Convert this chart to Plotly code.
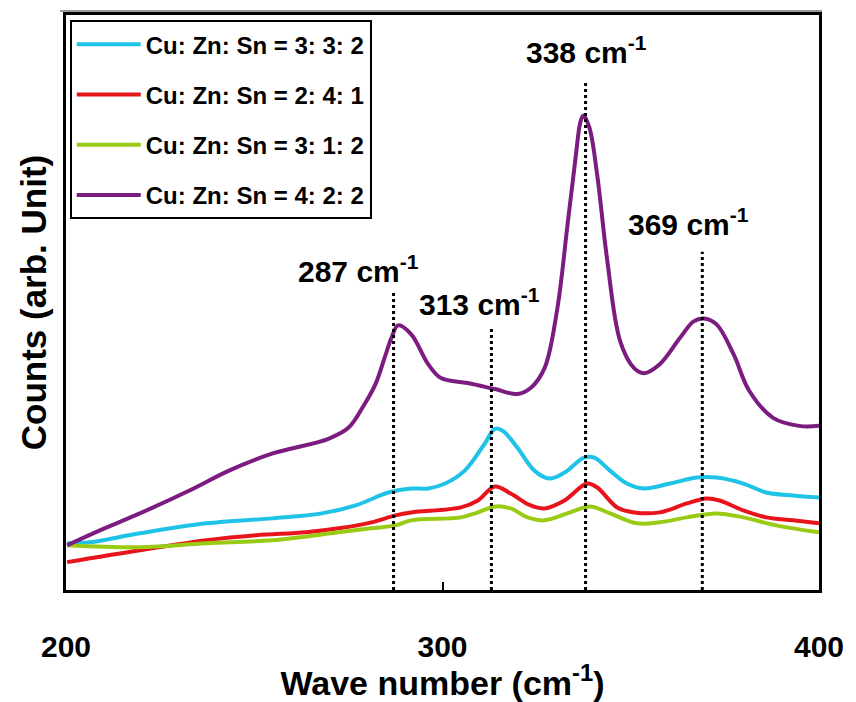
import plotly.graph_objects as go

# ---- data (wavenumber in cm^-1, counts in arbitrary units) ----
purple_x = [200.3, 209.0, 219.6, 232.8, 243.3, 254.7, 269.7, 275.0, 279.0, 282.2, 284.5, 286.4, 288.2,
            291.7, 296.2, 299.6, 306.7, 313.9, 319.9, 323.4, 327.1, 330.5, 333.2, 335.3, 336.6,
            337.4, 339.0, 341.1, 343.7, 347.2, 350.9, 353.5, 357.7, 363.0, 366.7, 369.4, 372.8,
            377.3, 381.5, 387.8, 394.7, 400.0]
purple_y = [45, 60, 77, 100, 120, 137, 152, 163, 185, 207, 232, 253, 266,
            257, 227, 213, 208, 202, 197, 203, 223, 283, 367, 433, 470,
            477, 465, 417, 333, 250, 223, 218, 227, 253, 270, 273, 267,
            237, 200, 173, 165, 165]

cyan_x = [200.3, 206.3, 219.6, 237.3, 254.7, 267.9, 276.9, 285.6, 291.7, 296.2, 300.7, 305.9,
          311.2, 313.9, 316.0, 319.9, 324.4, 328.4, 332.4, 337.6, 340.3, 344.5, 349.0, 353.5,
          360.4, 367.5, 372.8, 379.9, 386.0, 393.1, 400.0]
cyan_y = [47, 48, 57, 67, 72, 77, 85, 98, 102, 102, 107, 120,
          147, 162, 160, 143, 120, 112, 118, 133, 133, 120, 107, 102,
          107, 113, 113, 107, 98, 95, 93]

red_x = [200.3, 219.6, 237.3, 250.5, 263.7, 272.4, 281.1, 287.5, 291.7, 304.9, 309.4, 313.9,
         318.1, 323.4, 327.1, 332.4, 338.4, 341.1, 346.4, 350.9, 357.7, 364.9, 370.1, 373.6,
         379.9, 386.0, 393.1, 400.0]
red_y = [28, 40, 50, 55, 58, 62, 68, 75, 78, 83, 90, 104,
         97, 85, 82, 90, 107, 103, 83, 78, 78, 87, 92, 90,
         80, 73, 70, 67]

green_x = [200.3, 219.6, 237.3, 254.7, 272.4, 281.1, 287.5, 291.7, 304.9, 309.4, 314.1, 318.1,
           322.6, 327.1, 333.9, 339.2, 344.5, 351.7, 357.7, 364.9, 372.8, 379.9, 388.6, 400.0]
green_y = [45, 43, 47, 50, 58, 62, 65, 70, 73, 78, 84, 82,
           73, 70, 78, 84, 77, 67, 68, 73, 77, 73, 65, 58]

series_names = ["Cu: Zn: Sn = 3: 3: 2", "Cu: Zn: Sn = 2: 4: 1",
                "Cu: Zn: Sn = 3: 1: 2", "Cu: Zn: Sn = 4: 2: 2"]

peak_pos = [287, 313, 338, 369]
peak_line_top = [300, 265, 512, 340]
peak_label_x = [277.7, 309.9, 338.2, 365.4]
peak_label_y = [323, 290, 543, 370]

x_ticks = [200, 300, 400]

# ---- figure ----
colors = ["#1FC3E6", "#E8141B", "#9ACB14", "#7C1C80"]
xs = [cyan_x, red_x, green_x, purple_x]
ys = [cyan_y, red_y, green_y, purple_y]
FONT = "Liberation Sans, Arial"

fig = go.Figure()
for i in range(4):
    fig.add_trace(go.Scatter(
        x=xs[i], y=ys[i], mode="lines", name=f"<b>{series_names[i]}</b>",
        line=dict(color=colors[i], width=4, shape="spline", smoothing=1.0),
        legendgroup=str(i),
    ))

for p, top in zip(peak_pos, peak_line_top):
    fig.add_shape(type="line", xref="x", yref="y", x0=p, x1=p, y0=0, y1=top,
                  line=dict(color="black", width=3, dash="dot"), layer="above")

for p, lx, ly in zip(peak_pos, peak_label_x, peak_label_y):
    fig.add_annotation(x=lx, y=ly, xref="x", yref="y", showarrow=False,
                       text=f"<b>{p} cm<sup>-1</sup></b>",
                       font=dict(family=FONT, size=30, color="black"))

# thin grey line above the frame
fig.add_shape(type="line", xref="paper", yref="paper", x0=-0.008, x1=1.004, y0=1.0069, y1=1.0069,
              line=dict(color="#9a9a9a", width=2))

fig.update_layout(
    width=856, height=702,
    margin=dict(l=66, r=33, t=12, b=112),
    paper_bgcolor="white", plot_bgcolor="white",
    showlegend=True,
    legend=dict(
        x=0.005, y=0.991, xanchor="left", yanchor="top",
        bgcolor="white", bordercolor="black", borderwidth=2,
        font=dict(family=FONT, size=24, color="black"),
        tracegroupgap=16, itemwidth=64,
    ),
    xaxis=dict(
        range=[200, 400], tickvals=x_ticks, ticktext=[f"<b>{t}</b>" for t in x_ticks],
        ticks="inside", ticklen=8, tickwidth=1.5, tickcolor="black",
        showline=True, linecolor="black", linewidth=3, mirror=True,
        showgrid=False, zeroline=False,
        ticklabelstandoff=28,
        tickfont=dict(family=FONT, size=30, color="black"),
        title=dict(text="<b>Wave number (cm<sup>-1</sup>)</b>", standoff=0,
                   font=dict(family=FONT, size=34, color="black")),
    ),
    yaxis=dict(
        range=[0, 578], showticklabels=False, ticks="",
        showline=True, linecolor="black", linewidth=3, mirror=True,
        showgrid=False, zeroline=False,
        title=dict(text="<b>Counts (arb. Unit)</b>", standoff=6,
                   font=dict(family=FONT, size=35, color="black")),
    ),
)

fig.write_html("out.html")
